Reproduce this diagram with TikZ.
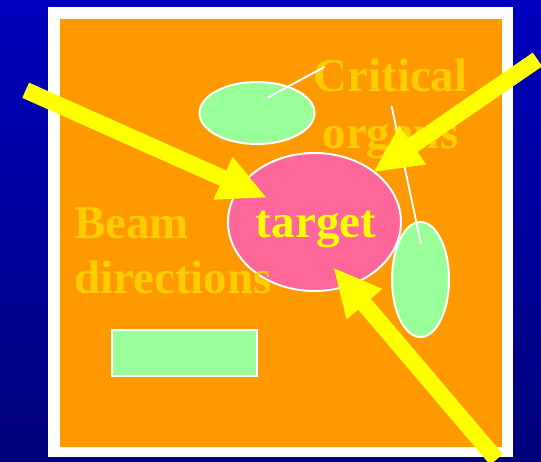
\documentclass[tikz,border=0pt]{standalone}
\usepackage{fontspec}
\setmainfont{Liberation Serif}
\usetikzlibrary{calc,shapes.geometric}
\definecolor{bgtop}{RGB}{0,0,190}
\definecolor{bgbot}{RGB}{0,0,122}
\definecolor{panel}{RGB}{255,153,0}
\definecolor{organ}{RGB}{153,255,153}
\definecolor{tgt}{RGB}{255,102,153}
\definecolor{gold}{RGB}{255,204,0}
\definecolor{beam}{RGB}{255,255,0}
\newcommand{\beamarrow}[2]{%
  \fill[beam] ($(#1)!8.3pt!90:(#2)$) -- ($($(#2)!47pt!(#1)$)!8.3pt!-90:(#1)$)
    -- ($($(#2)!47pt!(#1)$)!23.5pt!-90:(#1)$) -- (#2)
    -- ($($(#2)!47pt!(#1)$)!23.5pt!90:(#1)$) -- ($($(#2)!47pt!(#1)$)!8.3pt!90:(#1)$)
    -- ($(#1)!8.3pt!-90:(#2)$) -- cycle;}
\tikzset{
  organbox/.style={draw=white, line width=2pt, fill=organ, inner sep=0pt},
  organell/.style={ellipse, draw=white, line width=2pt, fill=organ, inner sep=0pt},
  bigtext/.style={font=\bfseries\fontsize{47}{57}\selectfont, inner sep=0pt},
  pointer/.style={draw=white, line width=1.9pt},
}
\begin{document}
\begin{tikzpicture}[x=1pt,y=-1pt]
\useasboundingbox (0,0) rectangle (541,461);
\shade[top color=bgtop, bottom color=bgbot] (0,0) rectangle (541,461);
\fill[white] (48,7) rectangle (513,457);
\fill[panel] (60,19) rectangle (502,447);
% organs
\node[organbox, minimum width=145pt, minimum height=46pt] (rect) at (184.5,353) {};
\node[organell, minimum width=115pt, minimum height=62pt] (top) at (257,113) {};
\node[ellipse, draw=white, line width=2pt, fill=tgt, inner sep=0pt,
      minimum width=173pt, minimum height=138pt] (target) at (314.5,222) {};
\node[organell, minimum width=57pt, minimum height=115pt] (side) at (420.5,279.5) {};
% labels
\node[bigtext, text=gold, align=center, anchor=base] (crit) at (390.5,148.8) {Critical\\organs};
\coordinate (p1a) at (267.4,97.7);
\coordinate (p1b) at (324.4,67);
\coordinate (p2a) at (391.6,106);
\coordinate (p2b) at (421,244);
\draw[pointer] (p1a) -- (p1b);
\draw[pointer] (p2a) -- (p2b);
\node[bigtext, text=gold, align=left, anchor=base west, font=\bfseries\fontsize{47}{55}\selectfont] (beamlbl) at (74,293.3) {Beam\\directions};
\node[bigtext, text=beam, anchor=base] (tlabel) at (316,237) {target};
% beam arrows
\coordinate (t1) at (25.7,90.3);  \coordinate (h1) at (266,197.3);
\coordinate (t2) at (537.5,59.5); \coordinate (h2) at (374,171.7);
\coordinate (t3) at (496.5,459.5); \coordinate (h3) at (334,268.3);
\beamarrow{t1}{h1}
\beamarrow{t2}{h2}
\beamarrow{t3}{h3}
\end{tikzpicture}
\end{document}
